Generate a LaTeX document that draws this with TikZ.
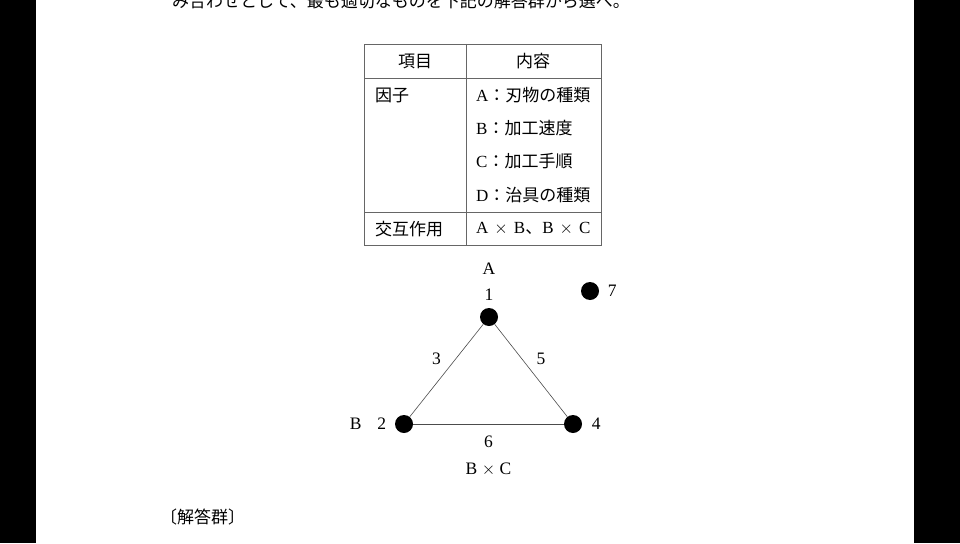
\documentclass[tikz,border=0pt]{standalone}
\usepackage{fontspec}
\usepackage{amsmath}
\usetikzlibrary{positioning}
\setmainfont{Liberation Serif}
\newfontfamily\jpfont{Noto Sans CJK JP}
\newcommand{\jp}[1]{{\jpfont #1}}
\newcommand{\crs}{\hspace{6pt}$\times$\hspace{6pt}}

\begin{document}
\begin{tikzpicture}[x=1pt,y=-1pt,font=\fontsize{17}{20}\selectfont,main node/.style={circle,fill=black,inner sep=0pt,minimum size=18pt},lbl/.style={inner sep=1pt,font=\fontsize{17.5}{20}\selectfont},edge/.style={draw=black!70,line width=0.6pt},rule/.style={draw=black!60,line width=0.8pt},cell/.style={anchor=west,inner sep=0pt}]
  \useasboundingbox (0,0) rectangle (960,543);
  \fill[black] (0,0) rectangle (960,543);
  \fill[white] (36,0) rectangle (914,543);
  \node[anchor=west,inner sep=0pt] (intro) at (172,1) {\jp{み合わせとして、最も適切なものを下記の解答群から選べ。}};

  % table
  \draw[rule] (364,44) rectangle (601,245);
  \draw[rule] (466,44) -- (466,245);
  \draw[rule] (364,78) -- (601,78);
  \draw[rule] (364,212) -- (601,212);
  \node (item) at (415,61) {\jp{項目}};
  \node (content) at (533,61) {\jp{内容}};
  \node[cell] (factor) at (375,95) {\jp{因子}};
  \node[cell] (facA) at (476,95) {A\jp{：刃物の種類}};
  \node[cell] (facB) at (476,128) {B\jp{：加工速度}};
  \node[cell] (facC) at (476,161) {C\jp{：加工手順}};
  \node[cell] (facD) at (476,195) {D\jp{：治具の種類}};
  \node[cell] (inter) at (375,229) {\jp{交互作用}};
  \node[cell] (interAB) at (476,229) {A\crs B\jp{、}B\crs C};

  % linear graph
  \node[main node] (1) at (489,317) {};
  \node[main node] (2) at (404,424) {};
  \node[main node] (4) at (573,424) {};
  \node[main node] (7) at (590,291) {};
  \node[lbl] (n1) [above=6pt of 1] {1};
  \node[lbl] (fA) [above=12pt of n1] {A};
  \node[lbl] (n2) [left=7.5pt of 2] {2};
  \node[lbl] (fB) [left=13.5pt of n2] {B};
  \node[lbl] (n4) [right=8.5pt of 4] {4};
  \node[lbl] (n7) [right=7.5pt of 7] {7};
  \draw[edge] (1) -- node[lbl,above left=6pt] (n3) {3} (2);
  \draw[edge] (1) -- node[lbl,above right=6pt] (n5) {5} (4);
  \draw[edge] (2) -- node[lbl,below=11pt] (n6) {6} (4);
  \node[lbl] (fBC) [below=12pt of n6] {B $\times$ C};

  \node[anchor=west,inner sep=0pt] (answers) at (160,517) {\jp{〔解答群〕}};
\end{tikzpicture}
\end{document}
